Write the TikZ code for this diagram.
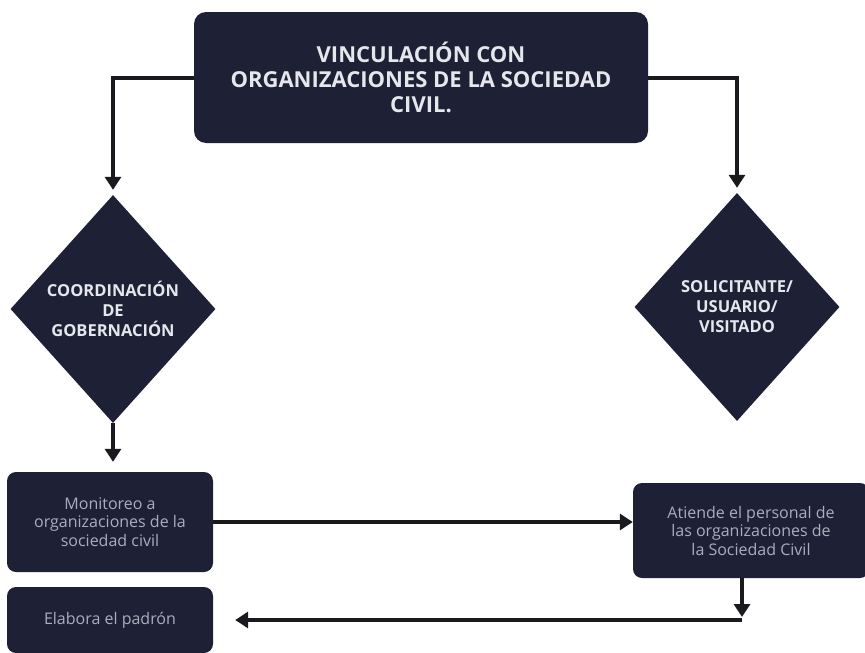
\documentclass[tikz,border=0pt]{standalone}
\usepackage{fontspec}
\setmainfont{Open Sans}
\usetikzlibrary{arrows.meta, shapes.geometric}
\definecolor{onavy}{HTML}{1E2135}
\definecolor{oline}{HTML}{1A1A1E}
\definecolor{otext}{HTML}{E6E7EC}
\definecolor{osoft}{HTML}{A9AEBD}
\tikzset{
  >={Triangle[length=13pt,width=16pt]},
  head/.style={
    fill=onavy, rounded corners=12pt, text=otext, align=center, inner sep=0pt,
    minimum width=454pt, minimum height=131pt, font=\bfseries\fontsize{22}{25}\selectfont
  },
  choice/.style={
    diamond, aspect=0.9, fill=onavy, text=otext, align=center, inner sep=0pt,
    minimum width=205pt, minimum height=228pt, font=\bfseries\fontsize{16.5}{20}\selectfont
  },
  task/.style={
    fill=onavy, rounded corners=9pt, text=osoft, align=center, inner sep=0pt,
    minimum width=206pt, minimum height=#1, font=\fontsize{16}{18.5}\selectfont
  },
  task/.default=100pt,
  arr/.style={->, line width=4pt, draw=oline}
}
\begin{document}
\begin{tikzpicture}[x=1pt,y=-1pt]
  \useasboundingbox (0,0) rectangle (865,653);
  \node[head] (vinc) at (421,77.5) {VINCULACIÓN CON\\ORGANIZACIONES DE LA SOCIEDAD\\CIVIL.};
  \node[choice] (coord) at (113,309) {COORDINACIÓN\\DE\\GOBERNACIÓN};
  \node[choice] (solic) at (737,307) {SOLICITANTE/\\USUARIO/\\VISITADO};
  \node[task] (monit) at (110,522) {Monitoreo a\\organizaciones de la\\sociedad civil};
  \node[task=66pt] (padron) at (110,620) {Elabora el padrón};
  \node[task=95pt,minimum width=236pt] (atiende) at (751,530.5)
    {Atiende el personal de\\las organizaciones de\\la Sociedad Civil};
  \coordinate (junta) at (742,620);
  % connectors
  \draw[arr,shorten >=5pt] (vinc.west) -| (coord.north);
  \draw[arr,shorten >=5pt] (vinc.east) -| (solic.north);
  \draw[arr,shorten >=10pt] (coord.south) -- (coord.south |- monit.north);
  \draw[arr] (monit.east) -- (monit.east -| atiende.west);
  \draw[arr,shorten >=3pt] (atiende.south -| junta) -- (junta);
  \draw[arr,shorten >=22pt] (junta) -- (junta -| padron.east);
\end{tikzpicture}
\end{document}
